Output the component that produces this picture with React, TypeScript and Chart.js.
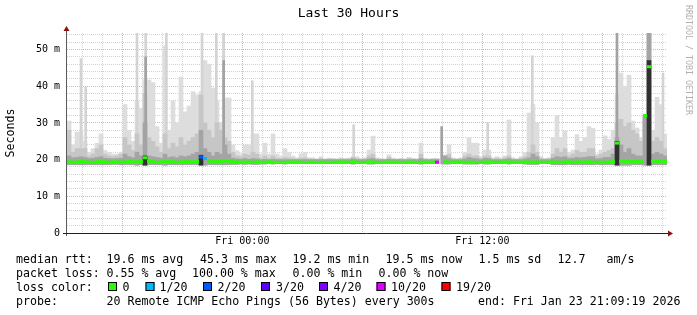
import React, { useEffect, useRef } from 'react';
import { Chart, registerables } from 'chart.js';
Chart.register(...registerables);

// ---- time axis (minutes relative to Fri 00:00) ----
const STEP_MIN = 12;
const START_MIN = -526;
const END_MIN = 1274;

const xLabelTimes = [0, 720];
const xLabelTexts = ['Fri 00:00', 'Fri 12:00'];
const yLabelValues = [0, 10, 20, 30, 40, 50];
const yLabelTexts = ['0', '10 m', '20 m', '30 m', '40 m', '50 m'];
const Y_MAX = 54.5;

// ---- smoke (ms) per 12-minute step ----
const smokeMin = [
  18.6, 18.6, 18.6, 18.6, 18.6, 18.6, 18.6, 18.6, 18.6, 18.6,
  18.6, 18.7, 18.7, 18.6, 18.6, 18.6, 18.6, 18.5, 18.6, 18.5,
  18.6, 18.6, 18.6, 18.6, 18.5, 18.6, 18.6, 18.6, 18.6, 18.6,
  18.6, 18.6, 18.6, 18.5, 18.5, 18.6, 18.6, 18.6, 18.6, 18.6,
  18.6, 18.7, 18.7, 18.8, 18.7, 18.8, 18.7, 18.7, 18.8, 18.8,
  18.9, 18.8, 18.9, 18.9, 18.8, 18.9, 18.9, 18.9, 18.9, 18.9,
  18.9, 18.9, 18.9, 18.9, 18.9, 18.9, 18.9, 18.9, 18.9, 18.9,
  18.9, 18.8, 18.9, 18.9, 18.9, 18.8, 18.8, 18.9, 18.9, 18.9,
  18.9, 18.9, 18.9, 18.9, 18.9, 18.9, 18.9, 18.9, 18.8, 18.9,
  18.9, 18.9, 18.9, null, 18.8, 18.8, 18.9, 18.9, 18.9, 18.8,
  18.8, 18.8, 18.8, 18.9, 18.8, 18.8, 18.9, 18.9, 18.9, 18.9,
  18.8, 18.9, 18.9, 18.9, 18.8, 18.7, 18.7, 18.7, 18.9, 18.9,
  18.9, 18.6, 18.6, 18.6, 18.6, 18.7, 18.6, 18.6, 18.6, 18.6,
  18.6, 18.6, 18.7, 18.6, 18.6, 18.6, 18.6, 18.5, 18.5, 18.5,
  18.5, 18.6, 18.6, 18.6, 18.5, 18.5, 18.6, 18.6, 18.6, 18.6,
];

const smokeMax = [
  30.5, 24, 27.5, 27.5, 25, 22, 23, 24.5, 27, 22.5,
  22, 21.5, 21.5, 22, 35, 28, 25, 36, 34, 41.7,
  41.7, 41, 29, 24.5, 51, 28, 36, 30, 42.5, 33,
  34.6, 38.5, 37.6, 38.5, 47, 46, 39.5, 36, 30, 36.8,
  36.8, 24, 22.4, 21.6, 24, 24, 27, 27, 21.5, 24.5,
  21.5, 27, 21.5, 21, 23, 22, 21, 20.5, 21.6, 22,
  20.5, 20.5, 20.2, 20.8, 20.2, 20.4, 20.3, 20.2, 20.5, 20.3,
  20.4, 20.8, 20.8, 20.3, 20.5, 22.6, 26.4, 20.5, 20.3, 20.2,
  21.3, 20.4, 20.2, 20.3, 20.2, 20.6, 20.3, 20.2, 24.5, 20.3,
  20.2, 20.3, 20.3, null, 21.3, 24, 20.5, 20.3, 20.5, 22,
  26, 24.5, 24.5, 20.8, 22.6, 22.6, 20.5, 20.8, 20.5, 21,
  30.8, 20.5, 20.3, 20.8, 22, 32.7, 35, 30, 20.8, 20.3,
  20.5, 26, 32, 26, 27.8, 22, 22.6, 26.8, 25, 26,
  29, 28.5, 21.5, 22.6, 26.5, 25.5, 28, 37.6, 43.6, 40,
  43, 30.5, 28.6, 26, 32, 54.5, 28, 37, 35, 27,
];

const smokeMid = [
  28, 22, 23, 23, 23, 21, 21.5, 23, 24, 21.5,
  21, 20.8, 21, 21.5, 26, 24, 22.5, 27, 24, 38,
  26, 25, 23.5, 22, 27, 23, 24.5, 23.5, 26, 24,
  25, 26, 27, 37.6, 30, 28, 26, 30, 28, 26,
  25, 22, 21, 20.8, 21.5, 21.2, 22, 21.5, 20.4, 21,
  20.4, 21, 20.4, 20.3, 20.6, 20.5, 20.3, 20.2, 20.4, 20.5,
  20.2, 20.2, 20.1, 20.3, 20.1, 20.2, 20.2, 20.1, 20.2, 20.2,
  20.2, 20.6, 20.3, 20.1, 20.2, 21, 21.5, 20.2, 20.1, 20.1,
  20.6, 20.2, 20.1, 20.2, 20.1, 20.3, 20.2, 20.1, 21.5, 20.2,
  20.1, 20.2, 20.2, null, 20.6, 21.5, 20.2, 20.1, 20.3, 21,
  21.5, 21, 21, 20.4, 21, 21, 20.2, 20.4, 20.2, 20.5,
  21, 20.2, 20.1, 20.4, 20.8, 22, 24, 22, 20.4, 20.2,
  20.3, 21.5, 23, 22, 23, 21, 21.5, 22.5, 22, 22,
  23, 23, 21, 21.5, 22, 22.5, 23, 30, 31, 29,
  30, 28, 27, 25, 30, 54.5, 25, 26, 25, 23,
];

const smokeDark = [
  21, 20.5, 20.6, 20.8, 20.6, 20.3, 20.4, 20.6, 20.8, 20.4,
  20.3, 20.2, 20.3, 20.4, 21.5, 20.8, 20.5, 22, 21, 30,
  21, 20.8, 20.6, 20.4, 21.5, 20.6, 20.8, 20.5, 21, 20.8,
  21, 21.5, 22, 28, 23, 22, 21, 22, 21.5, 24,
  21.5, 20.4, 20.2, 20.1, 20.3, 20.1, 20.3, 20.2, 20, 20.1,
  20, 20.1, 20, 20, 20, 20, 20, 20, 20, 20,
  20, 20, 20, 20, 20, 20, 20, 20, 20, 20,
  20, 20.2, 20, 20, 20, 20.2, 20.3, 20, 20, 20,
  20.1, 20, 20, 20, 20, 20, 20, 20, 20.3, 20,
  20, 20, 20, null, 21, 20.4, 20, 20, 20, 20.2,
  20.6, 20.3, 20.2, 20, 20.4, 20.3, 20, 20, 20, 20.1,
  20.3, 20, 20, 20, 20.2, 20.5, 21.5, 20.8, 20, 20,
  20, 20.4, 20.8, 20.6, 20.8, 20.3, 20.4, 20.6, 20.5, 20.6,
  20.8, 20.8, 20.2, 20.3, 20.6, 20.6, 21.5, 26, 24, 22,
  23, 21.5, 21, 21, 32, 54.5, 21.5, 22, 21.5, 21,
];

// near-black core of the smoke (sparse: step index -> top)
const coreSteps = [19, 33, 137, 145];
const coreTops = [21, 21.2, 25, 47];

// thin spikes (time in minutes rel. Fri 00:00 -> top ms)
const lightSpikeTimes = [-484, -470, -316, -290, -228, -121, -78, -56, 30, 334, 736, 870, 1262];
const lightSpikeTops = [47.5, 39.8, 54.5, 54.5, 54.5, 54.5, 54.5, 54.5, 41.5, 29.5, 30, 48.3, 43.6];
const darkSpikeTimes = [-290, -56, 598, 1124];
const darkSpikeTops = [48, 47, 29, 54.5];

// median rtt per step (ms)
const median = [
  19.4, 19.3, 19.4, 19.5, 19.4, 19.3, 19.3, 19.4, 19.5, 19.4,
  19.3, 19.4, 19.4, 19.3, 19.4, 19.5, 19.4, 19.4, 19.5, 20.5,
  19.5, 19.4, 19.3, 19.4, 19.5, 19.4, 19.4, 19.3, 19.4, 19.5,
  19.4, 19.4, 19.5, 20.7, 20.3, 19.6, 19.5, 19.4, 19.5, 19.6,
  19.5, 19.4, 19.4, 19.3, 19.4, 19.3, 19.3, 19.4, 19.3, 19.3,
  19.4, 19.3, 19.3, 19.2, 19.3, 19.3, 19.4, 19.3, 19.3, 19.2,
  19.3, 19.3, 19.2, 19.3, 19.3, 19.2, 19.3, 19.3, 19.4, 19.3,
  19.3, 19.4, 19.3, 19.2, 19.3, 19.4, 19.3, 19.3, 19.2, 19.3,
  19.3, 19.3, 19.3, 19.2, 19.3, 19.3, 19.3, 19.2, 19.3, 19.3,
  19.3, 19.3, 19.3, null, 19.4, 19.3, 19.3, 19.4, 19.3, 19.3,
  19.3, 19.3, 19.2, 19.3, 19.3, 19.4, 19.3, 19.3, 19.3, 19.4,
  19.3, 19.3, 19.3, 19.3, 19.4, 19.3, 19.4, 19.3, 19.3, 19.3,
  19.3, 19.4, 19.3, 19.3, 19.4, 19.4, 19.3, 19.4, 19.3, 19.4,
  19.4, 19.3, 19.3, 19.3, 19.3, 19.4, 19.4, 24.5, 19.6, 19.5,
  19.5, 19.4, 19.5, 19.4, 32, 45.3, 19.6, 19.5, 19.6, 19.5,
];

// packet loss (sparse: step index -> lost pings of 20)
const lossSteps = [33, 34, 92];
const lossValues = [2, 1, 10];

const lossThresholds = [0, 1, 2, 3, 4, 10, 19];
const lossLabels = ['0', '1/20', '2/20', '3/20', '4/20', '10/20', '19/20'];
const lossColors = ['#26ff00', '#00b8ff', '#0059ff', '#5e00ff', '#7e00ff', '#dd00ff', '#ff0000'];

const statRow1 = ['median rtt:', '19.6 ms avg', '45.3 ms max', '19.2 ms min', '19.5 ms now', '1.5 ms sd', '12.7', 'am/s'];
const statRow2 = ['packet loss:', '0.55 % avg', '100.00 % max', '0.00 % min', '0.00 % now'];
const probeRow = ['probe:', '20 Remote ICMP Echo Pings (56 Bytes) every 300s', 'end: Fri Jan 23 21:09:19 2026'];
const TITLE = 'Last 30 Hours';
const Y_TITLE = 'Seconds';
const WATERMARK = 'RRDTOOL / TOBI OETIKER';

const MONO = '"DejaVu Sans Mono", monospace';

function lossColor(l: number) {
  let c = lossColors[0];
  for (let k = 0; k < lossThresholds.length; k++) if (l >= lossThresholds[k]) c = lossColors[k];
  return c;
}

const overlay = {
  id: 'overlay',
  afterDraw(chart: any) {
    const ctx = chart.ctx as CanvasRenderingContext2D;
    const { left, right, top, bottom } = chart.chartArea;
    ctx.save();
    // axes
    ctx.lineWidth = 1;
    ctx.strokeStyle = '#5a5a5a';
    ctx.beginPath();
    ctx.moveTo(left - 0.5, bottom + 3);
    ctx.lineTo(left - 0.5, top - 3);
    ctx.stroke();
    ctx.strokeStyle = '#202020';
    ctx.beginPath();
    ctx.moveTo(left - 4, bottom + 0.5);
    ctx.lineTo(right + 3, bottom + 0.5);
    ctx.stroke();
    // arrows
    ctx.fillStyle = '#8b1010';
    ctx.beginPath();
    ctx.moveTo(left - 0.5, top - 7);
    ctx.lineTo(left - 3.5, top - 2);
    ctx.lineTo(left + 2.5, top - 2);
    ctx.closePath();
    ctx.fill();
    ctx.beginPath();
    ctx.moveTo(right + 6, bottom + 0.5);
    ctx.lineTo(right + 1, bottom - 2.5);
    ctx.lineTo(right + 1, bottom + 3.5);
    ctx.closePath();
    ctx.fill();

    ctx.fillStyle = '#000';
    // title
    ctx.font = '13px ' + MONO;
    ctx.textAlign = 'center';
    ctx.textBaseline = 'middle';
    ctx.fillText(TITLE, chart.width / 2, 14);
    // y title
    ctx.save();
    ctx.translate(11, (top + bottom) / 2);
    ctx.rotate(-Math.PI / 2);
    ctx.font = '11.6px ' + MONO;
    ctx.fillText(Y_TITLE, 0, 0);
    ctx.restore();
    // watermark
    ctx.save();
    ctx.translate(688, 5);
    ctx.rotate(Math.PI / 2);
    ctx.font = '8.3px ' + MONO;
    ctx.fillStyle = '#b0b0b0';
    ctx.textAlign = 'left';
    ctx.fillText(WATERMARK, 0, 0);
    ctx.restore();

    // legend
    ctx.font = '11.6px ' + MONO;
    ctx.textAlign = 'left';
    ctx.textBaseline = 'alphabetic';
    const r1x = [16, 106.5, 200, 292.5, 385.5, 478.5, 557.5, 606.5];
    statRow1.forEach((s, k) => ctx.fillText(s, r1x[k], 263));
    const r2x = [16, 106.5, 192, 292.5, 378.5];
    statRow2.forEach((s, k) => ctx.fillText(s, r2x[k], 277));
    ctx.fillText('loss color:', 16, 291);
    const boxX = [108, 145.5, 203, 261, 319, 376.5, 441.5];
    const labX = [122.5, 159.5, 217.5, 276, 333.5, 391, 456];
    lossLabels.forEach((s, k) => {
      ctx.fillStyle = lossColors[k];
      ctx.fillRect(boxX[k], 282, 9, 9);
      ctx.strokeStyle = '#000';
      ctx.strokeRect(boxX[k] + 0.5, 282.5, 8, 8);
      ctx.fillStyle = '#000';
      ctx.fillText(s, labX[k], 291);
    });
    const r4x = [16, 106.5, 478];
    probeRow.forEach((s, k) => ctx.fillText(s, r4x[k], 305));
    ctx.restore();
  },
};

export default function App() {
  const ref = useRef<HTMLCanvasElement>(null);
  useEffect(() => {
    if (!ref.current) return;
    const times = smokeMax.map((_, i) => START_MIN + STEP_MIN * (i + 0.5));
    const band = (tops: (number | null)[]) =>
      times.map((t, i) => ({ x: t, y: tops[i] == null || smokeMin[i] == null ? null : [smokeMin[i], tops[i]] }));
    const coreTopsFull = times.map((_, i) => {
      const k = coreSteps.indexOf(i);
      return k >= 0 ? coreTops[k] : null;
    });
    const baseAt = (t: number) => {
      const i = Math.floor((t - START_MIN) / STEP_MIN);
      return smokeMin[i] ?? smokeMin[i + 1] ?? smokeMin[i - 1];
    };
    const spikes = (ts: number[], tops: number[]) => ts.map((t, k) => ({ x: t, y: [baseAt(t), tops[k]] }));
    const medColors = times.map((_, i) => {
      const k = lossSteps.indexOf(i);
      return lossColor(k >= 0 ? lossValues[k] : 0);
    });

    const hourTicks: number[] = [];
    for (let v = Math.ceil(START_MIN / 60) * 60; v <= END_MIN; v += 60) hourTicks.push(v);
    const yTicks: number[] = [];
    for (let v = 0; v <= Y_MAX; v += 2) yTicks.push(v);

    const MINOR = 'rgba(150,150,150,0.42)';
    const MAJOR = 'rgba(215,60,60,0.42)';
    const tickFont = { family: MONO, size: 10 };
    const chart = new Chart(ref.current, {
      type: 'bar',
      data: {
        datasets: [
          { data: band(smokeMax), backgroundColor: '#dddddd', order: 10 } as any,
          { data: spikes(lightSpikeTimes, lightSpikeTops), backgroundColor: '#d3d3d3', xAxisID: 'x2', barThickness: 2, order: 9 },
          { data: band(smokeMid), backgroundColor: '#c6c6c6', order: 8 },
          { data: spikes(darkSpikeTimes, darkSpikeTops), backgroundColor: '#a2a2a2', xAxisID: 'x2', barThickness: 2, order: 7 },
          { data: band(smokeDark), backgroundColor: '#a4a4a4', order: 6 },
          { data: band(coreTopsFull), backgroundColor: '#303030', order: 5 },
          {
            type: 'line',
            data: times.map((t, i) => ({ x: t, y: median[i] })),
            showLine: false,
            pointStyle: 'line',
            pointRadius: 2,
            pointBorderWidth: 3,
            pointBorderColor: medColors,
            pointBackgroundColor: medColors,
            order: 1,
          },
        ],
      },
      options: {
        responsive: false,
        animation: false,
        devicePixelRatio: 1,
        events: [],
        layout: { padding: { top: 33, right: 30, left: 0, bottom: 0 } },
        plugins: { legend: { display: false }, tooltip: { enabled: false }, title: { display: false } },
        datasets: { bar: { grouped: false, barPercentage: 1, categoryPercentage: 1, borderWidth: 0 } },
        scales: {
          x: {
            type: 'linear',
            min: START_MIN,
            max: END_MIN,
            offset: false,
            afterBuildTicks: (s: any) => { s.ticks = hourTicks.map((v) => ({ value: v })); },
            afterFit: (s: any) => { s.height = 82; },
            ticks: {
              autoSkip: false, maxRotation: 0, minRotation: 0, padding: 2, font: tickFont, color: '#000',
              callback: (v: any) => { const k = xLabelTimes.indexOf(v); return k >= 0 ? xLabelTexts[k] : ''; },
            },
            grid: {
              offset: false, drawTicks: false, lineWidth: 1,
              color: (c: any) => (c.tick && c.tick.value % 360 === 0 ? MAJOR : MINOR),
            },
            border: { display: false, dash: [1, 1] },
          },
          x2: { type: 'linear', min: START_MIN, max: END_MIN, offset: false, display: false },
          y: {
            type: 'linear',
            min: 0,
            max: Y_MAX,
            afterBuildTicks: (s: any) => { s.ticks = yTicks.map((v) => ({ value: v })); },
            afterFit: (s: any) => { s.width = 67; },
            ticks: {
              autoSkip: false, padding: 7, font: tickFont, color: '#000',
              callback: (v: any) => { const k = yLabelValues.indexOf(v); return k >= 0 ? yLabelTexts[k] : ''; },
            },
            grid: {
              drawTicks: false, lineWidth: 1,
              color: (c: any) => (c.tick && c.tick.value % 10 === 0 ? MAJOR : MINOR),
            },
            border: { display: false, dash: [1, 1] },
          },
        },
      } as any,
      plugins: [overlay],
    });
    return () => chart.destroy();
  }, []);
  return (
    <div style={{ position: 'absolute', left: 0, top: 0, width: 697, height: 315, background: '#fff' }}>
      <canvas ref={ref} width={697} height={315} style={{ display: 'block' }} />
    </div>
  );
}
